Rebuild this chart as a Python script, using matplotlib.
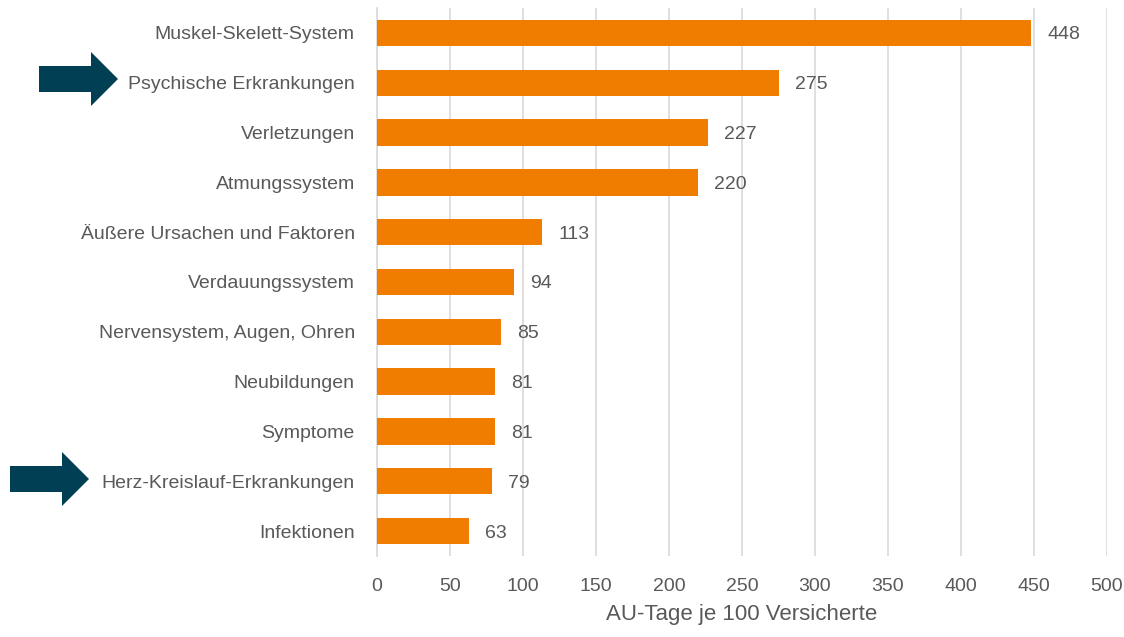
import matplotlib
matplotlib.use("Agg")
from matplotlib import pyplot as plt
from matplotlib.patches import Polygon

plt.rcParams['font.family'] = ['Liberation Sans', 'DejaVu Sans']

categories = [
    "Muskel-Skelett-System",
    "Psychische Erkrankungen",
    "Verletzungen",
    "Atmungssystem",
    "Äußere Ursachen und Faktoren",
    "Verdauungssystem",
    "Nervensystem, Augen, Ohren",
    "Neubildungen",
    "Symptome",
    "Herz-Kreislauf-Erkrankungen",
    "Infektionen",
]
values = [448, 275, 227, 220, 113, 94, 85, 81, 81, 79, 63]
x_ticks = [0, 50, 100, 150, 200, 250, 300, 350, 400, 450, 500]

BAR_COLOR = "#F07D00"
TEXT_COLOR = "#595959"
GRID_COLOR = "#D9D9D9"
ARROW_COLOR = "#003F54"
FS = 14

W, H = 1124, 637
fig = plt.figure(figsize=(W / 100, H / 100), dpi=100)
ax = fig.add_axes([377 / W, 81 / H, 730 / W, 548 / H])

ypos = list(range(len(categories)))
ax.barh(ypos, values, height=0.53, color=BAR_COLOR, zorder=3)
for y, v in zip(ypos, values):
    ax.text(v + 11, y + 0.04, str(v), va="center", ha="left", fontsize=FS, color=TEXT_COLOR)

ax.set_ylim(len(categories) - 0.5, -0.5)
ax.set_xlim(0, 500)
ax.set_yticks(ypos)
ax.set_yticklabels(categories)
ax.set_xticks(x_ticks)
ax.tick_params(axis="both", length=0, labelsize=FS, labelcolor=TEXT_COLOR)
ax.tick_params(axis="y", pad=16)
ax.tick_params(axis="x", pad=16)
ax.xaxis.grid(True, color=GRID_COLOR, linewidth=1.2, zorder=0)
for side in ["top", "right", "bottom"]:
    ax.spines[side].set_visible(False)
ax.spines["left"].set_color(GRID_COLOR)
ax.spines["left"].set_linewidth(1.2)
ax.set_xlabel("AU-Tage je 100 Versicherte", fontsize=16, color=TEXT_COLOR, labelpad=6)


def arrow(x0, yc):
    # arrow shape in pixels: shaft 52 long, head 27 long
    pts = [(x0, yc - 13), (x0 + 52, yc - 13), (x0 + 52, yc - 27), (x0 + 79, yc),
           (x0 + 52, yc + 27), (x0 + 52, yc + 13), (x0, yc + 13)]
    pts = [(px / W, (H - py) / H) for px, py in pts]
    fig.patches.append(Polygon(pts, closed=True, transform=fig.transFigure,
                               facecolor=ARROW_COLOR, edgecolor="none"))


arrow(39, 79)
arrow(10, 479)

fig.savefig("out.png", dpi=100)
